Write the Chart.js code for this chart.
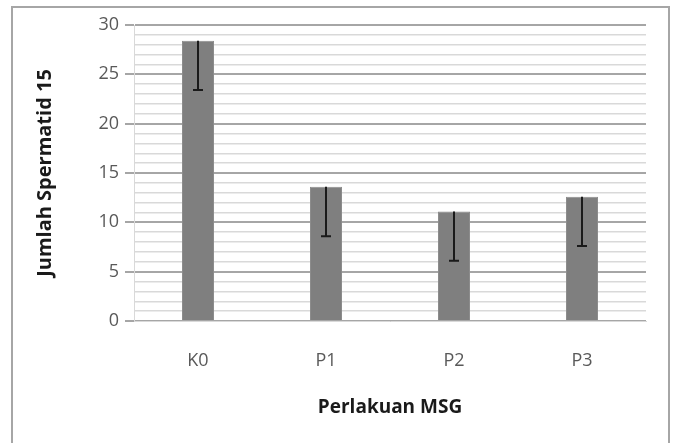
<!DOCTYPE html>
<html>
<head>
<meta charset="utf-8">
<script src="https://cdn.jsdelivr.net/npm/chart.js@4.4.1/dist/chart.umd.min.js"></script>
<style>
  html, body { margin: 0; padding: 0; background: #fff; }
  #wrap { position: relative; width: 675px; height: 443px; overflow: hidden; }
  #frame {
    position: absolute; left: 11px; top: 6px; width: 659px; height: 460px;
    border: 2px solid #a6a6a6; box-sizing: border-box;
  }
  canvas { position: absolute; left: 0; top: 0; }
</style>
</head>
<body>
<div id="wrap">
  <div id="frame"></div>
  <canvas id="chart" width="675" height="443"></canvas>
</div>
<script>
// data
const categories = ['K0', 'P1', 'P2', 'P3'];
const meanValues = [28.4, 13.6, 11.1, 12.6];
const lowerValues = [23.4, 8.6, 6.1, 7.6];   // end of the (minus) error bar
const yTickLabels = [0, 5, 10, 15, 20, 25, 30];

const FONT = '"Open Sans", "Noto Sans", sans-serif';

// draws the minus-direction error bars from the scales
const errorBars = {
    id: 'errorBars',
    afterDatasetsDraw(chart) {
        const ctx = chart.ctx;
        const meta = chart.getDatasetMeta(0);
        const y = chart.scales.y;
        ctx.save();
        ctx.strokeStyle = '#1a1a1a';
        ctx.lineWidth = 2;
        meta.data.forEach((bar, i) => {
            const top = y.getPixelForValue(meanValues[i]);
            const bottom = y.getPixelForValue(lowerValues[i]);
            ctx.beginPath();
            ctx.moveTo(bar.x, top);
            ctx.lineTo(bar.x, bottom);
            ctx.moveTo(bar.x - 5, bottom);
            ctx.lineTo(bar.x + 5, bottom);
            ctx.stroke();
        });
        ctx.restore();
    }
};

new Chart(document.getElementById('chart'), {
    type: 'bar',
    data: {
        labels: categories,
        datasets: [{
            data: meanValues,
            backgroundColor: '#7f7f7f',
            borderColor: '#8c8c8c',
            borderWidth: 1,
            barPercentage: 0.25,
            categoryPercentage: 1
        }]
    },
    options: {
        responsive: false,
        animation: false,
        layout: { padding: { left: 33, top: 25, right: 29, bottom: 18 } },
        plugins: {
            legend: { display: false },
            tooltip: { enabled: false }
        },
        scales: {
            x: {
                afterFit(scale) { scale.height = 104; },
                grid: { display: false, drawTicks: false },
                border: { color: '#d9d9d9', width: 1 },
                ticks: {
                    color: '#595959',
                    padding: 29,
                    font: { family: FONT, size: 18 }
                },
                title: {
                    display: true,
                    text: 'Perlakuan MSG',
                    color: '#1a1a1a',
                    padding: { top: 0, bottom: 6 },
                    font: { family: FONT, size: 19, weight: 'bold' }
                }
            },
            y: {
                min: 0,
                max: 30,
                afterFit(scale) { scale.width = 101; },
                afterBuildTicks(scale) {
                    // minor lines every 1, labelled majors from yTickLabels
                    const ticks = [];
                    for (let v = 0; v <= 30; v++) ticks.push({ value: v });
                    scale.ticks = ticks;
                },
                border: { color: '#d9d9d9', width: 1 },
                grid: {
                    color: (c) => yTickLabels.includes(c.tick.value) ? '#a6a6a6' : '#d9d9d9',
                    lineWidth: (c) => yTickLabels.includes(c.tick.value) ? 2 : 1.5,
                    tickColor: (c) => yTickLabels.includes(c.tick.value) ? '#a6a6a6' : 'rgba(0,0,0,0)',
                    tickLength: 9
                },
                ticks: {
                    color: '#595959',
                    padding: 6,
                    autoSkip: false,
                    font: { family: FONT, size: 18 },
                    callback: (v) => yTickLabels.includes(v) ? String(v) : ''
                },
                title: {
                    display: true,
                    text: 'Jumlah Spermatid 15',
                    color: '#1a1a1a',
                    padding: { top: 0, bottom: 0 },
                    font: { family: FONT, size: 20, weight: 'bold' }
                }
            }
        }
    },
    plugins: [errorBars]
});
</script>
</body>
</html>
